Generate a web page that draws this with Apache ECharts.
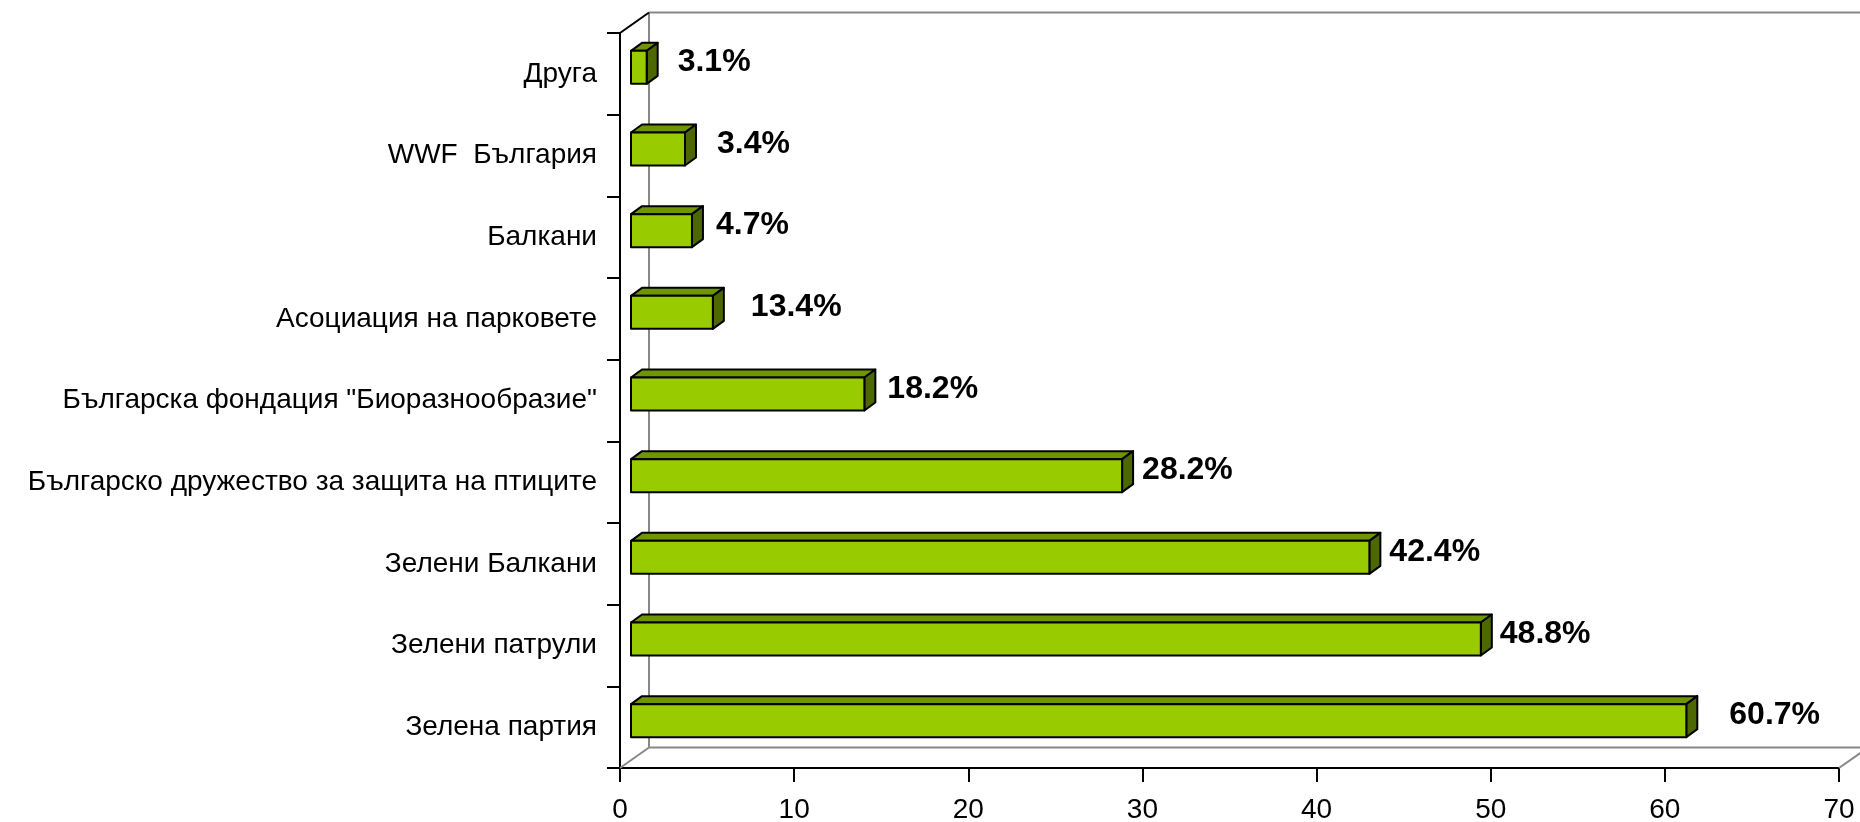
<!DOCTYPE html>
<html>
<head>
<meta charset="utf-8">
<script src="https://cdn.jsdelivr.net/npm/echarts@6/dist/echarts.min.js"></script>
<style>
html,body{margin:0;padding:0;background:#fff;}
#chart{width:1860px;height:822px;}
</style>
</head>
<body>
<div id="chart"></div>
<script>
// ---- data (top to bottom as drawn) ----
const categories = [
  'Друга',
  'WWF  България',
  'Балкани',
  'Асоциация на парковете',
  'Българска фондация "Биоразнообразие"',
  'Българско дружество за защита на птиците',
  'Зелени Балкани',
  'Зелени патрули',
  'Зелена партия'
];
// bar lengths as drawn in the picture
const barValues = [0.9, 3.1, 3.5, 4.7, 13.4, 28.2, 42.4, 48.8, 60.6];
// data label texts as printed in the picture
const labelTexts = ['3.1%', '3.4%', '4.7%', '13.4%', '18.2%', '28.2%', '42.4%', '48.8%', '60.7%'];
const xTicks = [0, 10, 20, 30, 40, 50, 60, 70];

// ---- style ----
const FONT = "'Liberation Sans', Arial, sans-serif";
const WALL_DX = 29, WALL_DY = -20.5;   // depth of the 3D box
const BAR_SX = 11, BAR_SY = -6.5;      // bar front face offset into depth
const BAR_DX = 11, BAR_DY = -8;        // bar depth
const BAR_H = 33;
// horizontal gap (px) between each bar's end and its data label, as placed in the reference
const labelGap = [20, 21, 13, 27, 12, 9, 9, 8, 32];

const chart = echarts.init(document.getElementById('chart'));

const seriesData = barValues.map((v, i) => [v, i]);

function renderBar(params, api) {
  const v = api.value(0), c = api.value(1);
  const p0 = api.coord([0, c]);
  const p1 = api.coord([v, c]);
  const x0 = p0[0] + BAR_SX, x1 = p1[0] + BAR_SX;
  const yc = p0[1] + BAR_SY;
  const yt = yc - BAR_H / 2, yb = yc + BAR_H / 2;
  const stroke = {stroke: '#000', lineWidth: 2, lineJoin: 'round'};
  return {
    type: 'group',
    children: [
      {type: 'polygon', shape: {points: [[x0, yt], [x0 + BAR_DX, yt + BAR_DY], [x1 + BAR_DX, yt + BAR_DY], [x1, yt]]},
       style: Object.assign({fill: '#6F9600'}, stroke)},
      {type: 'polygon', shape: {points: [[x1, yt], [x1 + BAR_DX, yt + BAR_DY], [x1 + BAR_DX, yb + BAR_DY], [x1, yb]]},
       style: Object.assign({fill: '#4D6800'}, stroke)},
      {type: 'rect', shape: {x: x0, y: yt, width: x1 - x0, height: BAR_H},
       style: Object.assign({fill: '#99CC00'}, stroke)},
      {type: 'text', x: x1 + BAR_DX + labelGap[params.dataIndex], y: yc - 5,
       style: {text: labelTexts[params.dataIndex], fill: '#000', font: 'bold 32px ' + FONT,
               textAlign: 'left', textVerticalAlign: 'middle'}}
    ]
  };
}

function renderWalls(params, api) {
  const cs = params.coordSys;
  const L = cs.x, T = cs.y, R = cs.x + cs.width, B = cs.y + cs.height;
  const gray = {stroke: '#888888', lineWidth: 2};
  const far = 2000;
  return {
    type: 'group',
    children: [
      {type: 'line', shape: {x1: L + WALL_DX, y1: T + WALL_DY, x2: L + WALL_DX, y2: B + WALL_DY}, style: gray},
      {type: 'line', shape: {x1: L + WALL_DX, y1: T + WALL_DY, x2: far, y2: T + WALL_DY}, style: gray},
      {type: 'line', shape: {x1: L + WALL_DX, y1: B + WALL_DY, x2: far, y2: B + WALL_DY}, style: gray},
      {type: 'line', shape: {x1: L, y1: B, x2: L + WALL_DX, y2: B + WALL_DY}, style: gray},
      {type: 'line', shape: {x1: R, y1: B, x2: R + WALL_DX, y2: B + WALL_DY}, style: gray},
      {type: 'line', shape: {x1: L, y1: T, x2: L + WALL_DX, y2: T + WALL_DY}, style: {stroke: '#000', lineWidth: 2}}
    ]
  };
}

chart.setOption({
  animation: false,
  backgroundColor: '#fff',
  grid: {left: 620, right: 21, top: 33, bottom: 54, outerBoundsMode: 'none'},
  xAxis: {
    type: 'value', min: xTicks[0], max: xTicks[xTicks.length - 1], interval: 10,
    axisLine: {show: true, lineStyle: {color: '#000', width: 2}},
    axisTick: {show: true, length: 14, lineStyle: {color: '#000', width: 2}},
    splitLine: {show: false},
    axisLabel: {color: '#000', fontFamily: FONT, fontSize: 28, margin: 28}
  },
  yAxis: {
    type: 'category', data: categories, inverse: true,
    axisLine: {show: true, lineStyle: {color: '#000', width: 2}},
    axisTick: {show: true, length: 13, lineStyle: {color: '#000', width: 2}},
    splitLine: {show: false},
    axisLabel: {color: '#000', fontFamily: FONT, fontSize: 28, margin: 23}
  },
  series: [
    {type: 'custom', name: 'walls', data: [[0, 0]], renderItem: renderWalls, z: 1, silent: true},
    {type: 'custom', name: 'bars', data: seriesData, encode: {x: 0, y: 1}, renderItem: renderBar, z: 3}
  ]
});
</script>
</body>
</html>
